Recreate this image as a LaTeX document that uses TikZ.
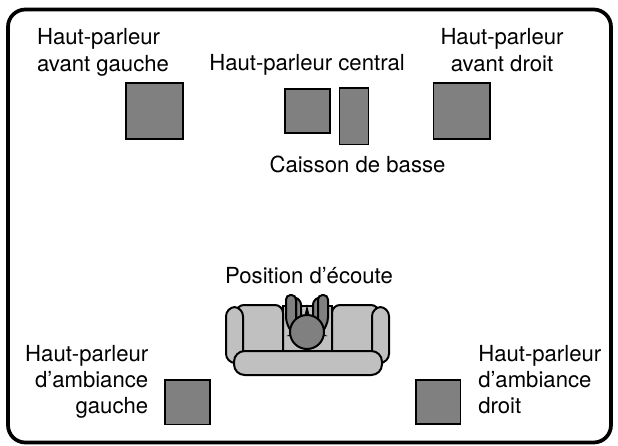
\documentclass[tikz,border=0pt]{standalone}
\usepackage{fontspec}
\setmainfont{TeX Gyre Heros}
\definecolor{spkgray}{HTML}{808080}
\definecolor{sofagray}{HTML}{C0C0C0}
\tikzset{
  speaker/.style={draw=black, fill=spkgray, line width=1.1pt},
  sofa/.style={draw=black, fill=sofagray, line width=1.5pt},
  person/.style={draw=black, fill=spkgray, line width=1.5pt},
  lab/.style={font=\fontsize{16.6}{20.2}\selectfont, inner sep=0pt},
  labtight/.style={font=\fontsize{16.6}{19.3}\selectfont, inner sep=0pt}
}
\begin{document}
\begin{tikzpicture}[x=0.75pt,y=-0.75pt]
\useasboundingbox (0,0) rectangle (618,446);

\draw [line width=2.8pt, rounded corners=13pt] (8,9.5) rectangle (611,442.5);

% speakers
\draw [speaker] (126,83) rectangle (183,139);
\draw [speaker] (285,89) rectangle (330,133);
\draw [speaker] (339.5,88) rectangle (368.5,144.5);
\draw [speaker] (433.5,83) rectangle (490,139);
\draw [speaker] (165,380) rectangle (210,424.5);
\draw [speaker] (416,380) rectangle (460.5,424);

% sofa
\draw [sofa] (283,306) rectangle (332,351);
\draw [sofa] (283,351) [rounded corners=6pt] -- (283,305) -- (236,305) [sharp corners] -- (236,351) -- cycle;
\draw [sofa] (332,351) [rounded corners=6pt] -- (332,305) -- (379,305) [sharp corners] -- (379,351) -- cycle;
\draw [sofa, rounded corners=7pt] (226,307) rectangle (243,363);
\draw [sofa, rounded corners=7pt] (372,307) rectangle (389,363);
\draw [sofa, rounded corners=8pt] (234,351) rectangle (382,375);

% listener
\draw [person] (305,318) -- (307,309) -- (309,318) -- cycle;
\draw [person, rounded corners=2pt] (296,335) -- (296,297) -- (301,302) -- (301,335) -- cycle;
\draw [person, rounded corners=2pt] (318,335) -- (318,297) -- (313,302) -- (313,335) -- cycle;
\draw [person, rounded corners=3.4pt] (293,335) -- (286,322) -- (286,295) -- (296,295) -- (296,335) -- cycle;
\draw [person, rounded corners=3.4pt] (321,335) -- (328,322) -- (328,295) -- (318,295) -- (318,335) -- cycle;
\draw [person] (307,332) circle (17);

% labels
\node (flLabel) at (103,52.5) [lab, align=left] {Haut-parleur\\avant gauche};
\node (frLabel) at (502,50) [lab, align=center] {Haut-parleur\\avant droit};
\node (cLabel) at (307,70) [lab, anchor=base] {Haut-parleur central};
\node (subLabel) at (357.5,172) [lab, anchor=base] {Caisson de basse};
\node (posLabel) at (309,283) [lab, anchor=base] {Position d’écoute};
\node (slLabel) at (148.5,381.8) [labtight, align=right, anchor=east] {Haut-parleur\\d’ambiance\\gauche};
\node (srLabel) at (478,379.5) [labtight, align=left, anchor=west] {Haut-parleur\\d’ambiance\\droit};
\end{tikzpicture}
\end{document}
